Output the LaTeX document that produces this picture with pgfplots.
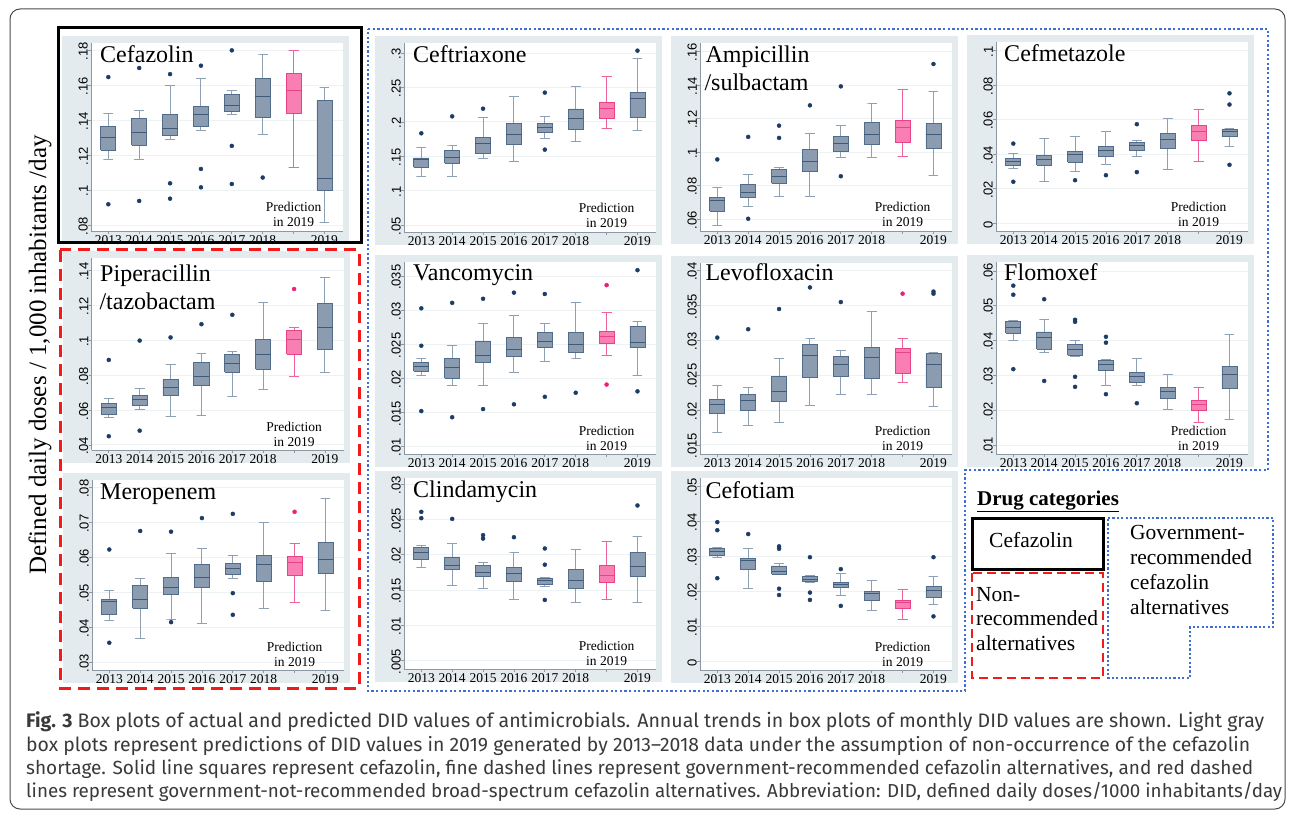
\documentclass[border=0pt]{standalone}
\usepackage{graphicx}
\usepackage{fontspec}
\setmainfont{Liberation Serif}
\newfontfamily\sansf{Liberation Sans}
\newfontfamily\capf{Fira Sans}
\usepackage{pgfplots}
\pgfplotsset{compat=1.18}

\definecolor{panelbg}{HTML}{E4EBEF}
\definecolor{gfill}{HTML}{8B9CB0}
\definecolor{gline}{HTML}{506C8A}
\definecolor{gwhisk}{HTML}{8EA0B3}
\definecolor{gmed}{HTML}{3E5A78}
\definecolor{navyd}{HTML}{1B3C64}
\definecolor{pfill}{HTML}{F87FB1}
\definecolor{pline}{HTML}{E8438A}
\definecolor{pwhisk}{HTML}{F0649E}
\definecolor{pdot}{HTML}{F01E78}
\definecolor{gridc}{HTML}{EDF2F4}
\definecolor{axgray}{HTML}{8C98A4}
\definecolor{blued}{HTML}{3C6FD1}
\definecolor{redd}{HTML}{F21B1B}
\definecolor{captxt}{HTML}{3A3A3A}

\pgfplotsset{
  panel/.style={
    scale only axis, width=252pt, anchor=north west,
    xmin=0.44, xmax=8.6, xtick={1,...,8},
    xticklabels={2013,2014,2015,2016,2017,2018,{},2019},
    axis x line*=bottom, axis y line*=left,
    tick align=outside, major tick length=3pt,
    axis line style={draw=axgray,line width=0.8pt},
    tick style={draw=axgray,line width=0.8pt},
    ymajorgrids, major grid style={draw=gridc,line width=0.9pt},
    axis background/.style={fill=white},
    xticklabel style={font=\fontsize{13.5}{14}\selectfont, inner sep=0pt, anchor=north, yshift=-1pt},
    yticklabel style={font=\sansf\fontsize{13}{13}\selectfont, rotate=90, anchor=south, inner sep=0pt, xshift=-1pt},
    scaled y ticks=false,
  },
  gwh/.style={draw=gwhisk, line width=1pt, mark=none},
  gbx/.style={fill=gfill, draw=gline, line width=0.8pt, mark=none},
  gmd/.style={draw=gmed, line width=1pt, mark=none},
  pwh/.style={draw=pwhisk, line width=1pt, mark=none},
  pbx/.style={fill=pfill, draw=pline, line width=0.8pt, mark=none},
  pmd/.style={draw=pline, line width=1pt, mark=none},
  gol/.style={only marks, mark=*, mark size=2pt, mark options={fill=navyd, draw=navyd}},
  pol/.style={only marks, mark=*, mark size=2pt, mark options={fill=pdot, draw=pdot}},
}

% #1 style (g or p), #2 position, #3 lower whisker, #4 lower quartile, #5 median, #6 upper quartile, #7 upper whisker
\newcommand{\boxp}[7]{%
  \addplot[#1wh, x filter/.expression={x+#2}] coordinates {(0,#4)(0,#3)(-0.16,#3)(0.16,#3)};
  \addplot[#1wh, x filter/.expression={x+#2}] coordinates {(0,#6)(0,#7)(-0.16,#7)(0.16,#7)};
  \addplot[#1bx, x filter/.expression={x+#2}] coordinates {(-0.245,#4)(0.245,#4)(0.245,#6)(-0.245,#6)(-0.245,#4)};
  \addplot[#1md, x filter/.expression={x+#2}] coordinates {(-0.245,#5)(0.245,#5)};
}
\newcommand{\bx}[6]{\boxp{g}{#1}{#2}{#3}{#4}{#5}{#6}}
\newcommand{\px}[6]{\boxp{p}{#1}{#2}{#3}{#4}{#5}{#6}}

\newcommand{\tfont}{\fontsize{24}{24}\selectfont}
\newcommand{\pfont}{\fontsize{13.5}{14}\selectfont}
\newcommand{\lfont}{\fontsize{21.5}{22}\selectfont}
% left, top, bottom
\newcommand{\bg}[3]{\fill[panelbg] (#1-29,#2-7) rectangle (#1+258,#3+13);}
\newcommand{\pred}[2]{\node[font=\pfont,anchor=base] at (#1+202.6,#2-19) {Prediction};
  \node[font=\pfont,anchor=base] at (#1+202.6,#2-4) {in 2019};}
% caption line of a given width
\newcommand{\capline}[3]{\node at (26,#1) {\resizebox{#2pt}{!}{#3}};}

\begin{document}
\begin{tikzpicture}
\begin{scope}[x=1pt,y=-1pt]
\useasboundingbox (0,0) rectangle (1295,818);
\fill[white] (0,0) rectangle (1295,818);
\draw[draw=black!70, line width=1pt, rounded corners=10pt] (10,9) rectangle (1285,809);

\bg{91}{43}{231}
\bg{404}{43}{232}
\bg{700}{43}{231}
\bg{996}{42}{231}
\bg{91.5}{258}{450}
\bg{404}{262}{454}
\bg{700}{263}{454}
\bg{996}{262}{454}
\bg{92}{480}{670}
\bg{404}{478}{669}
\bg{700}{478}{670}
\end{scope}

% Cefazolin
\begin{axis}[panel, at={(91pt,-43pt)}, height=188pt, ymin=0.0766, ymax=0.1842,
  ytick={0.08,0.1,0.12,0.14,0.16,0.18}, yticklabels={.08,.1,.12,.14,.16,.18}]
\bx{1}{0.1177}{0.1230}{0.1301}{0.1364}{0.1439}
\bx{2}{0.1177}{0.1257}{0.1328}{0.1408}{0.1458}
\bx{3}{0.1291}{0.1311}{0.1354}{0.1431}{0.1597}
\bx{4}{0.1341}{0.1364}{0.1435}{0.1477}{0.1637}
\bx{5}{0.1431}{0.1448}{0.1483}{0.1546}{0.1571}
\bx{6}{0.1316}{0.1416}{0.1538}{0.1641}{0.1779}
\px{7}{0.1129}{0.1439}{0.1572}{0.1670}{0.18}
\bx{8}{0.0815}{0.1001}{0.1068}{0.1515}{0.1586}
\addplot[gol] coordinates {(1,0.1647)(1,0.0919)(2,0.1699)(2,0.0938)(3,0.1664)(3,0.1039)(3,0.0951)
  (4,0.1712)(4,0.1121)(4,0.1016)(5,0.18)(5,0.1253)(5,0.1035)(6,0.1072)};
\end{axis}

% Ceftriaxone
\begin{axis}[panel, at={(404pt,-43pt)}, height=189pt, ymin=0.0403, ymax=0.3145,
  ytick={0.05,0.1,0.15,0.2,0.25,0.3}, yticklabels={.05,.1,.15,.2,.25,.3}]
\bx{1}{0.1206}{0.1341}{0.1448}{0.1477}{0.1622}
\bx{2}{0.1206}{0.1404}{0.1477}{0.1583}{0.1665}
\bx{3}{0.1472}{0.1539}{0.1685}{0.1781}{0.2067}
\bx{4}{0.1428}{0.1680}{0.1815}{0.1980}{0.2362}
\bx{5}{0.1762}{0.1849}{0.1912}{0.1975}{0.2081}
\bx{6}{0.1723}{0.1897}{0.2052}{0.2188}{0.2512}
\px{7}{0.1902}{0.2047}{0.2188}{0.2284}{0.2657}
\bx{8}{0.1878}{0.2067}{0.2333}{0.2434}{0.2923}
\addplot[gol] coordinates {(1,0.1835)(2,0.2081)(3,0.2192)(5,0.2425)(5,0.1598)(8,0.3034)};
\end{axis}

% Ampicillin/sulbactam
\begin{axis}[panel, at={(700pt,-43pt)}, height=188pt, ymin=0.0531, ymax=0.165,
  ytick={0.06,0.08,0.1,0.12,0.14,0.16}, yticklabels={.06,.08,.1,.12,.14,.16}]
\bx{1}{0.0566}{0.0650}{0.0713}{0.0729}{0.0792}
\bx{2}{0.0679}{0.0729}{0.0759}{0.0808}{0.0865}
\bx{3}{0.0739}{0.0814}{0.0853}{0.0899}{0.0907}
\bx{4}{0.0739}{0.0883}{0.0947}{0.1018}{0.1109}
\bx{5}{0.0970}{0.1006}{0.1050}{0.1093}{0.1160}
\bx{6}{0.0966}{0.1046}{0.1107}{0.1176}{0.1287}
\px{7}{0.0972}{0.1061}{0.1149}{0.1190}{0.1376}
\bx{8}{0.0863}{0.1024}{0.1107}{0.1170}{0.1364}
\addplot[gol] coordinates {(1,0.0957)(2,0.1091)(2,0.0604)(3,0.1158)(3,0.1085)(4,0.1279)
  (5,0.1392)(5,0.0857)(8,0.1525)};
\end{axis}

% Cefmetazole
\begin{axis}[panel, at={(996pt,-42pt)}, height=189pt, ymin=-0.0044, ymax=0.105,
  ytick={0,0.02,0.04,0.06,0.08,0.1}, yticklabels={0,.02,.04,.06,.08,.1}]
\bx{1}{0.0320}{0.0335}{0.0360}{0.0374}{0.0405}
\bx{2}{0.0245}{0.0337}{0.0372}{0.0395}{0.0489}
\bx{3}{0.0300}{0.0354}{0.0397}{0.0416}{0.0501}
\bx{4}{0.0339}{0.0385}{0.0422}{0.0443}{0.0534}
\bx{5}{0.0385}{0.0422}{0.0453}{0.0468}{0.0482}
\bx{6}{0.0314}{0.0435}{0.0485}{0.0520}{0.0609}
\px{7}{0.0360}{0.0480}{0.0530}{0.0566}{0.0657}
\bx{8}{0.0447}{0.0501}{0.0530}{0.0543}{0.0549}
\addplot[gol] coordinates {(1,0.0462)(1,0.0241)(3,0.0250)(4,0.0279)(5,0.0574)(5,0.0297)
  (8,0.0753)(8,0.0688)(8,0.0339)};
\end{axis}

% Piperacillin/tazobactam
\begin{axis}[panel, at={(91.5pt,-258pt)}, height=192pt, ymin=0.0371, ymax=0.1473,
  ytick={0.04,0.06,0.08,0.1,0.12,0.14}, yticklabels={.04,.06,.08,.1,.12,.14}]
\bx{1}{0.0557}{0.0576}{0.0614}{0.0639}{0.0668}
\bx{2}{0.0603}{0.0628}{0.0662}{0.0683}{0.0722}
\bx{3}{0.0563}{0.0687}{0.0731}{0.0777}{0.0864}
\bx{4}{0.0567}{0.0739}{0.0793}{0.0873}{0.0925}
\bx{5}{0.0678}{0.0818}{0.0867}{0.0917}{0.0936}
\bx{6}{0.0716}{0.0835}{0.0917}{0.1007}{0.1220}
\px{7}{0.0791}{0.0921}{0.1007}{0.1059}{0.1074}
\bx{8}{0.0814}{0.0950}{0.1076}{0.1214}{0.1360}
\addplot[gol] coordinates {(1,0.0888)(1,0.0450)(2,0.0999)(2,0.0482)(3,0.1017)(4,0.1093)(5,0.1147)};
\addplot[pol] coordinates {(7,0.1295)};
\end{axis}

% Vancomycin
\begin{axis}[panel, at={(404pt,-262pt)}, height=192pt, ymin=0.0089, ymax=0.0371,
  ytick={0.01,0.015,0.02,0.025,0.03,0.035}, yticklabels={.01,.015,.02,.025,.03,.035}]
\bx{1}{0.0205}{0.0211}{0.0218}{0.0224}{0.0229}
\bx{2}{0.0190}{0.0200}{0.0216}{0.0229}{0.0248}
\bx{3}{0.0189}{0.0224}{0.0233}{0.0255}{0.0281}
\bx{4}{0.0208}{0.0232}{0.0243}{0.0260}{0.0293}
\bx{5}{0.0225}{0.0246}{0.0254}{0.0267}{0.0281}
\bx{6}{0.0230}{0.0238}{0.0250}{0.0267}{0.0312}
\px{7}{0.0233}{0.0252}{0.0262}{0.0269}{0.0297}
\bx{8}{0.0205}{0.0245}{0.0253}{0.0277}{0.0284}
\addplot[gol] coordinates {(1,0.0303)(1,0.0248)(1,0.0152)(2,0.0311)(2,0.0143)(3,0.0317)(3,0.0155)
  (4,0.0326)(4,0.0162)(5,0.0324)(5,0.0173)(6,0.0179)(8,0.0359)(8,0.0181)};
\addplot[pol] coordinates {(7,0.0337)(7,0.0191)};
\end{axis}

% Levofloxacin
\begin{axis}[panel, at={(700pt,-263pt)}, height=191pt, ymin=0.0137, ymax=0.0411,
  ytick={0.015,0.02,0.025,0.03,0.035,0.04}, yticklabels={.015,.02,.025,.03,.035,.04}]
\bx{1}{0.0168}{0.0195}{0.0208}{0.0215}{0.0235}
\bx{2}{0.0178}{0.0199}{0.0214}{0.0223}{0.0232}
\bx{3}{0.0182}{0.0212}{0.0227}{0.0248}{0.0274}
\bx{4}{0.0206}{0.0247}{0.0278}{0.0294}{0.0302}
\bx{5}{0.0222}{0.0248}{0.0266}{0.0277}{0.0285}
\bx{6}{0.0222}{0.0246}{0.0276}{0.0290}{0.0342}
\px{7}{0.0239}{0.0253}{0.0283}{0.0289}{0.0303}
\bx{8}{0.0205}{0.0233}{0.0266}{0.0281}{0.0282}
\addplot[gol] coordinates {(1,0.0304)(2,0.0316)(3,0.0345)(4,0.0376)(5,0.0355)(8,0.0370)(8,0.0367)};
\addplot[pol] coordinates {(7,0.0367)};
\end{axis}

% Flomoxef
\begin{axis}[panel, at={(996pt,-262pt)}, height=192pt, ymin=0.0074, ymax=0.0626,
  ytick={0.01,0.02,0.03,0.04,0.05,0.06}, yticklabels={.01,.02,.03,.04,.05,.06}]
\bx{1}{0.0401}{0.0422}{0.0439}{0.0454}{0.0457}
\bx{2}{0.0365}{0.0375}{0.0408}{0.0425}{0.0461}
\bx{3}{0.0355}{0.0358}{0.0374}{0.0390}{0.0399}
\bx{4}{0.0272}{0.0315}{0.0332}{0.0344}{0.0346}
\bx{5}{0.0270}{0.0279}{0.0296}{0.0308}{0.0348}
\bx{6}{0.0202}{0.0234}{0.0255}{0.0265}{0.0302}
\px{7}{0.0164}{0.0200}{0.0215}{0.0227}{0.0265}
\bx{8}{0.0174}{0.0263}{0.0302}{0.0327}{0.0417}
\addplot[gol] coordinates {(1,0.0558)(1,0.0532)(1,0.0318)(2,0.0519)(2,0.0284)(3,0.0460)(3,0.0454)
  (3,0.0296)(3,0.0267)(4,0.0411)(4,0.0394)(4,0.0246)(5,0.0220)};
\end{axis}

% Meropenem
\begin{axis}[panel, at={(92pt,-480pt)}, height=190pt, ymin=0.0278, ymax=0.0822,
  ytick={0.03,0.04,0.05,0.06,0.07,0.08}, yticklabels={.03,.04,.05,.06,.07,.08}]
\bx{1}{0.0421}{0.0436}{0.0474}{0.0481}{0.0505}
\bx{2}{0.0367}{0.0455}{0.0481}{0.0520}{0.0541}
\bx{3}{0.0424}{0.0495}{0.0514}{0.0544}{0.0611}
\bx{4}{0.0411}{0.0514}{0.0542}{0.0579}{0.0626}
\bx{5}{0.0541}{0.0552}{0.0569}{0.0583}{0.0607}
\bx{6}{0.0455}{0.0533}{0.0579}{0.0605}{0.0701}
\px{7}{0.0472}{0.0548}{0.0586}{0.0604}{0.0641}
\bx{8}{0.0447}{0.0554}{0.0594}{0.0644}{0.0768}
\addplot[gol] coordinates {(1,0.0623)(1,0.0356)(2,0.0676)(3,0.0674)(3,0.0415)(4,0.0713)
  (5,0.0725)(5,0.0498)(5,0.0436)};
\addplot[pol] coordinates {(7,0.0731)};
\end{axis}

% Clindamycin
\begin{axis}[panel, at={(404pt,-478pt)}, height=191pt, ymin=0.0038, ymax=0.0309,
  ytick={0.005,0.01,0.015,0.02,0.025,0.03}, yticklabels={.005,.01,.015,.02,.025,.03}]
\bx{1}{0.0182}{0.0193}{0.0203}{0.0211}{0.0213}
\bx{2}{0.0156}{0.0179}{0.0185}{0.0197}{0.0216}
\bx{3}{0.0152}{0.0170}{0.0175}{0.0185}{0.0189}
\bx{4}{0.0136}{0.0162}{0.0173}{0.0182}{0.0204}
\bx{5}{0.0155}{0.0158}{0.0163}{0.0167}{0.0168}
\bx{6}{0.0132}{0.0152}{0.0163}{0.0179}{0.0208}
\px{7}{0.0136}{0.0161}{0.0170}{0.0185}{0.0219}
\bx{8}{0.0133}{0.0170}{0.0183}{0.0204}{0.0226}
\addplot[gol] coordinates {(1,0.0261)(1,0.0252)(2,0.0251)(3,0.0228)(3,0.0223)(4,0.0225)
  (5,0.0209)(5,0.0186)(5,0.0136)(8,0.0270)};
\end{axis}

% Cefotiam
\begin{axis}[panel, at={(700pt,-478pt)}, height=192pt, ymin=-0.0024, ymax=0.0524,
  ytick={0,0.01,0.02,0.03,0.04,0.05}, yticklabels={0,.01,.02,.03,.04,.05}]
\bx{1}{0.0296}{0.0302}{0.0314}{0.0324}{0.0326}
\bx{2}{0.0208}{0.0262}{0.0288}{0.0294}{0.0324}
\bx{3}{0.0249}{0.0250}{0.0257}{0.0273}{0.0279}
\bx{4}{0.0226}{0.0228}{0.0235}{0.0243}{0.0245}
\bx{5}{0.0188}{0.0212}{0.0219}{0.0226}{0.0251}
\bx{6}{0.0145}{0.0176}{0.0193}{0.0199}{0.0231}
\px{7}{0.0119}{0.0153}{0.0169}{0.0174}{0.0207}
\bx{8}{0.0164}{0.0182}{0.0203}{0.0214}{0.0243}
\addplot[gol] coordinates {(1,0.0398)(1,0.0375)(1,0.0238)(2,0.0364)(3,0.0329)(3,0.0322)(3,0.0208)
  (3,0.0190)(4,0.0298)(4,0.0197)(4,0.0176)(5,0.0264)(5,0.0159)(8,0.0298)(8,0.0129)};
\end{axis}

\begin{scope}[x=1pt,y=-1pt]
% panel titles
\node[font=\tfont,anchor=base west] at (96.7,62.5) {Cefazolin};
\node[font=\tfont,anchor=base west] at (409.7,63) {Ceftriaxone};
\node[font=\tfont,anchor=base west] at (702,63) {Ampicillin};
\node[font=\tfont,anchor=base west] at (701,91) {/sulbactam};
\node[font=\tfont,anchor=base west] at (1000.7,62) {Cefmetazole};
\node[font=\tfont,anchor=base west] at (96.7,281.5) {Piperacillin};
\node[font=\tfont,anchor=base west] at (96,309.5) {/tazobactam};
\node[font=\tfont,anchor=base west] at (409.7,280) {Vancomycin};
\node[font=\tfont,anchor=base west] at (702,280) {Levofloxacin};
\node[font=\tfont,anchor=base west] at (1000.7,280) {Flomoxef};
\node[font=\tfont,anchor=base west] at (96.7,499) {Meropenem};
\node[font=\tfont,anchor=base west] at (409.7,497.7) {Clindamycin};
\node[font=\tfont,anchor=base west] at (702,498.7) {Cefotiam};
% prediction notes
\pred{91}{231}
\pred{404}{232}
\pred{700}{231}
\pred{996}{231}
\pred{91.5}{450}
\pred{404}{454}
\pred{700}{454}
\pred{996}{454}
\pred{92}{670}
\pred{404}{669}
\pred{700}{670}

% y axis title
\node[rotate=90,font=\fontsize{25}{25}\selectfont] at (40,355) {Defined daily doses / 1,000 inhabitants /day};

% category frames
\draw[black, line width=3pt] (58,28) rectangle (361,243);
\draw[redd, line width=3pt, dash pattern=on 12pt off 7pt] (60,250) rectangle (359,688);
\draw[blued, line width=2.6pt, dash pattern=on 2.3pt off 2.3pt]
  (368,29) -- (1268,29) -- (1268,470) -- (965,470) -- (965,691) -- (368,691) -- cycle;

% legend
\node[font=\bfseries\fontsize{21}{21}\selectfont,anchor=base west,inner sep=0pt] at (977,505.5) {\underline{Drug categories}};
\draw[black, line width=3pt] (972,518) rectangle (1103,569);
\node[font=\lfont,anchor=base] at (1031,547.7) {Cefazolin};
\draw[redd, line width=2.5pt, dash pattern=on 9pt off 5pt] (972,573) rectangle (1103,678);
\node[font=\lfont,anchor=base west,inner sep=0pt] at (976,601.7) {Non-};
\node[font=\lfont,anchor=base west,inner sep=0pt] at (976,625.5) {recommended};
\node[font=\lfont,anchor=base west,inner sep=0pt] at (976,650) {alternatives};
\draw[blued, line width=2.3pt, dash pattern=on 2.2pt off 2.2pt]
  (1108,518) -- (1273,518) -- (1273,627) -- (1190,627) -- (1190,678) -- (1108,678) -- cycle;
\node[font=\lfont,anchor=base west,inner sep=0pt] at (1130,539) {Government-};
\node[font=\lfont,anchor=base west,inner sep=0pt] at (1130,564) {recommended};
\node[font=\lfont,anchor=base west,inner sep=0pt] at (1130,589) {cefazolin};
\node[font=\lfont,anchor=base west,inner sep=0pt] at (1130,614.5) {alternatives};

% caption
\begin{scope}[every node/.style={anchor=base west,inner sep=0pt,text=captxt,font=\capf\fontsize{18.8}{19}\selectfont}]
\capline{727.7}{1238}{\textbf{Fig. 3} Box plots of actual and predicted DID values of antimicrobials. Annual trends in box plots of monthly DID values are shown. Light gray}
\capline{751}{1224}{box plots represent predictions of DID values in 2019 generated by 2013–2018 data under the assumption of non-occurrence of the cefazolin}
\capline{774.3}{1227}{shortage. Solid line squares represent cefazolin, fine dashed lines represent government-recommended cefazolin alternatives, and red dashed}
\capline{797.7}{1256}{lines represent government-not-recommended broad-spectrum cefazolin alternatives. Abbreviation: DID, defined daily doses/1000 inhabitants/day}
\end{scope}
\end{scope}
\end{tikzpicture}
\end{document}
